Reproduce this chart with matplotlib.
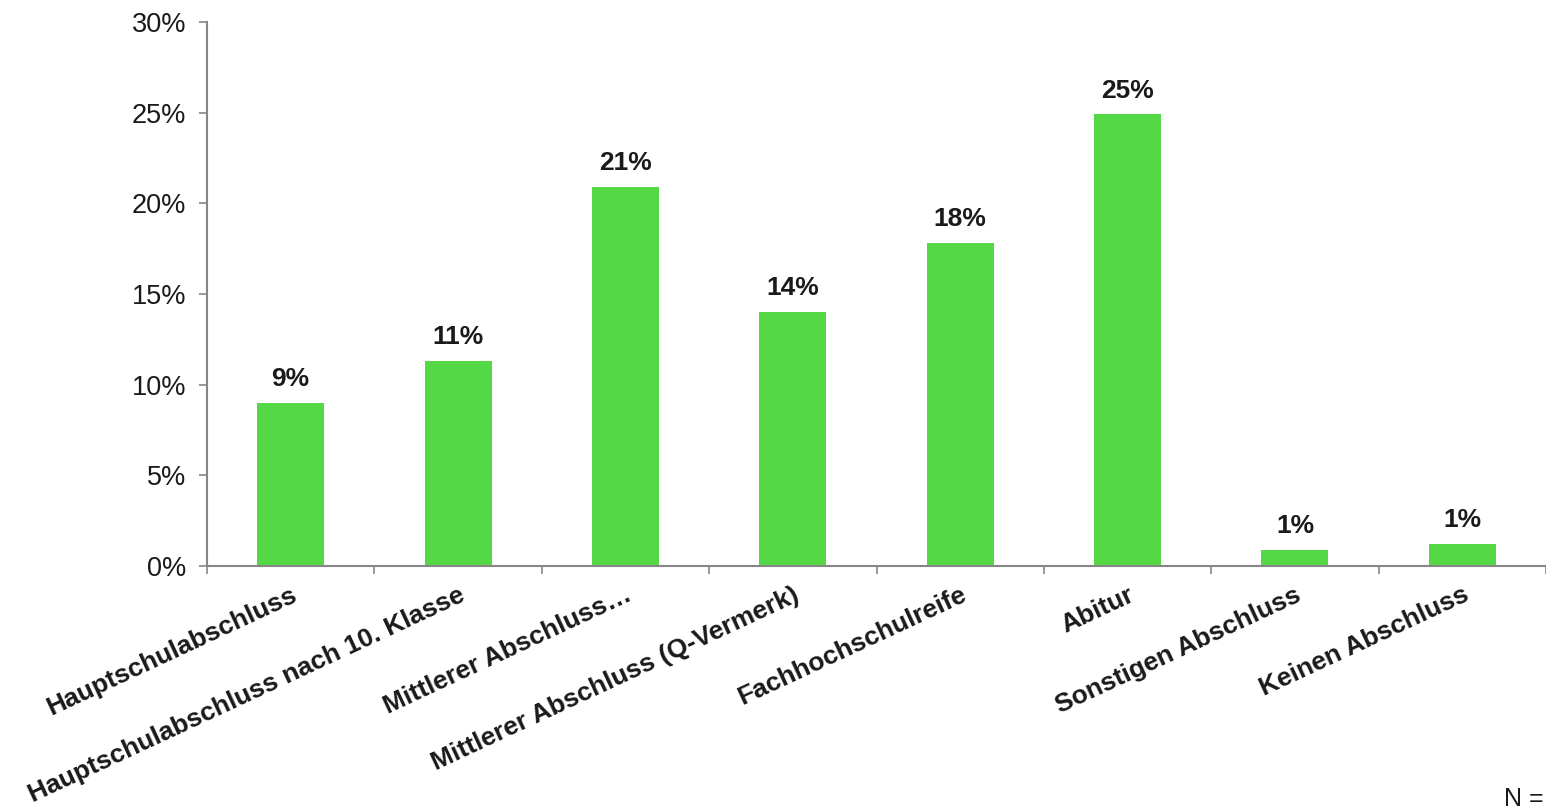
import numpy as np
import matplotlib.pyplot as plt
from matplotlib.ticker import FixedLocator, PercentFormatter

plt.rcParams['font.family'] = ['Liberation Sans', 'DejaVu Sans']

categories = [
    'Hauptschulabschluss',
    'Hauptschulabschluss nach 10. Klasse',
    'Mittlerer Abschluss…',
    'Mittlerer Abschluss (Q-Vermerk)',
    'Fachhochschulreife',
    'Abitur',
    'Sonstigen Abschluss',
    'Keinen Abschluss',
]
shares = [9.0, 11.3, 20.9, 14.0, 17.8, 24.9, 0.9, 1.2]
y_ticks = [0, 5, 10, 15, 20, 25, 30]

bar_color = '#55d846'
axis_color = '#868686'
text_color = '#1a1a1a'

fig = plt.figure(figsize=(15.46, 8.09), dpi=100)
ax = fig.add_axes([207 / 1546, 243 / 809, 1339 / 1546, 544 / 809])

x = np.arange(len(categories))
ax.bar(x, shares, width=0.4, color=bar_color, zorder=2)

for xi, v in zip(x, shares):
    ax.text(xi, v + 0.65, f'{v:.0f}%', ha='center', va='bottom',
            fontsize=19, fontweight='bold', color=text_color)

ax.set_xlim(-0.5, len(categories) - 0.5 - 5 / 168)
ax.set_ylim(0, 30)

ax.yaxis.set_major_locator(FixedLocator(y_ticks))
ax.yaxis.set_major_formatter(PercentFormatter(decimals=0))
ax.tick_params(axis='y', labelsize=19.5, labelcolor=text_color, color=axis_color,
               length=6, width=1.2, pad=9)

# ticks between categories, labels centred under bars
ax.set_xticks(np.arange(-0.5, len(categories), 1.0))
ax.set_xticklabels([])
ax.tick_params(axis='x', which='major', color=axis_color, length=6, width=1.2)
ax.set_xticks(x, minor=True)
ax.set_xticklabels(categories, minor=True, rotation=25, ha='right',
                   rotation_mode='anchor', fontsize=19, fontweight='bold',
                   color=text_color)
ax.tick_params(axis='x', which='minor', length=0, pad=12)

for side in ('top', 'right'):
    ax.spines[side].set_visible(False)
for side in ('left', 'bottom'):
    ax.spines[side].set_color(axis_color)
    ax.spines[side].set_linewidth(1.5)

fig.text(1544 / 1546, 1 - 799 / 809, 'N =', fontsize=18, color=text_color,
         ha='right', va='center')

fig.savefig('out.png', dpi=100)
